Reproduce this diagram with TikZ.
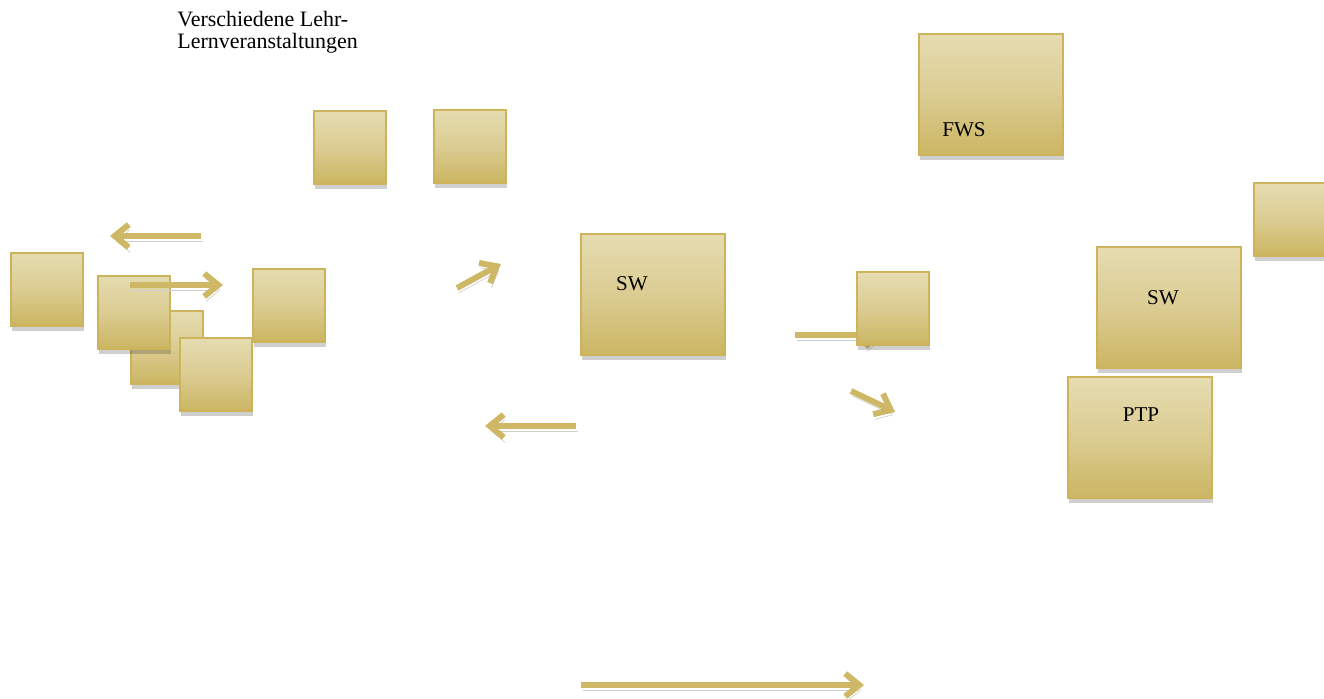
\documentclass[tikz,border=0pt]{standalone}
\usepackage{fontspec}
\setmainfont{Liberation Serif}
\usetikzlibrary{shadows,arrows.meta}
\definecolor{goldlight}{RGB}{229,220,176}
\definecolor{goldmid}{RGB}{219,204,146}
\definecolor{golddark}{RGB}{203,182,98}
\definecolor{goldline}{RGB}{205,180,92}
\definecolor{goldarrow}{RGB}{206,184,102}

\begin{document}
\begin{tikzpicture}
[x=0.02cm,y=-0.02cm,
  boxdecorate/.style={draw=goldline,line width=1.2pt,anchor=north west,inner sep=0pt,
    top color=goldlight,bottom color=golddark,middle color=goldmid,
    drop shadow={shadow xshift=0.02cm,shadow yshift=-0.1cm,fill=black,opacity=0.19}},
  smallbox/.style={boxdecorate,minimum width=1.44cm,minimum height=1.45cm},
  bigbox/.style={boxdecorate,minimum width=2.88cm,minimum height=2.42cm},
  goldarrow/.style={-{Straight Barb[length=8pt,width=13pt]},line width=3.4pt,color=goldarrow,
    preaction={draw=black!19,transform canvas={xshift=0.03cm,yshift=-0.1cm}}},
  labeltext/.style={font=\fontsize{12}{12}\selectfont,inner sep=0pt}]
\useasboundingbox (0,0) rectangle (1324,699);
% title
\node (title) at (177,11) [labeltext,anchor=north west,align=left,font=\fontsize{12.5}{12.5}\selectfont]
  {Verschiedene Lehr-\\Lernveranstaltungen};
% left group of boxes
\node (l1) at (10,252) [smallbox] {};
\node (l3) at (130,310) [smallbox] {};
\node (l2) at (97,275) [smallbox] {};
\node (l4) at (179,337) [smallbox] {};
\node (l5) at (252,268) [smallbox] {};
% upper middle boxes
\node (m1) at (313,110) [smallbox] {};
\node (m2) at (433,109) [smallbox] {};
% centre box
\node (sw1) at (580,233) [bigbox] {};
\node (sw1 text) at (632,284) [labeltext] {SW};
% arrow behind the small box
\draw[goldarrow] (795,335) -- (884,335);
\node (r1) at (856,271) [smallbox] {};
% right side
\node (fws) at (918,33) [bigbox] {};
\node (fws text) at (964,130) [labeltext] {FWS};
\node (r2) at (1253,182) [smallbox] {};
\node (sw2) at (1096,246) [bigbox] {};
\node (sw2 text) at (1163,298) [labeltext] {SW};
\node (ptp) at (1067,376) [bigbox] {};
\node (ptp text) at (1141,415) [labeltext] {PTP};
% arrows
\draw[goldarrow] (201,236) -- (110,236);
\draw[goldarrow] (130,285) -- (223,285);
\draw[goldarrow] (457,288) -- (501,264);
\draw[goldarrow] (576,426) -- (485,426);
\draw[goldarrow] (851,391) -- (895,412);
\draw[goldarrow] (581,685) -- (864,685);
\end{tikzpicture}
\end{document}
